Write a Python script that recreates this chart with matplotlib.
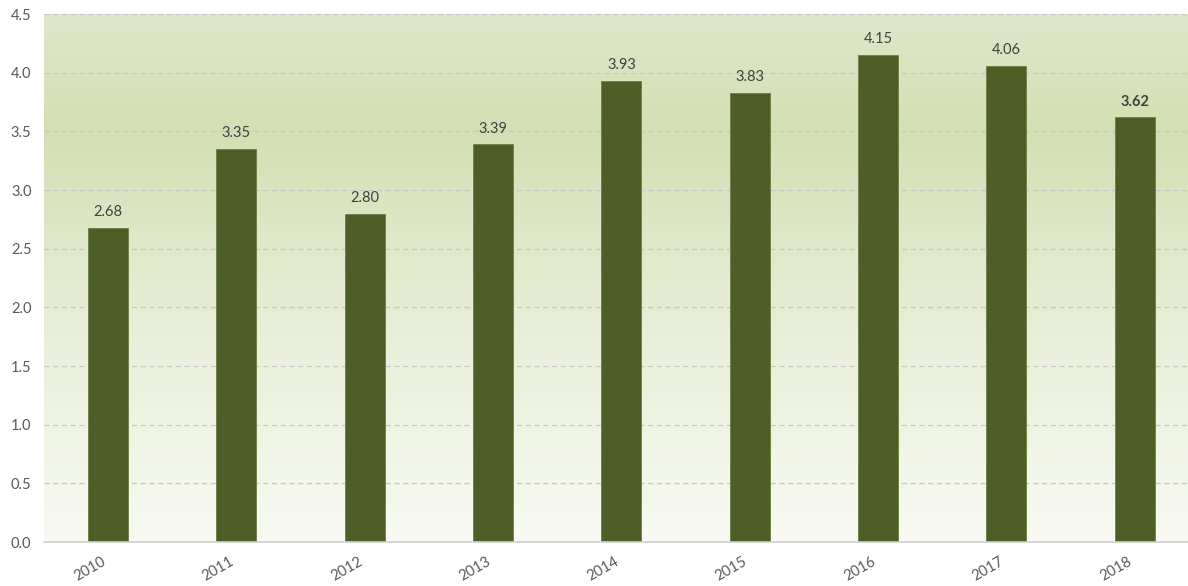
import matplotlib
matplotlib.use("Agg")
import matplotlib.pyplot as plt
import numpy as np
from matplotlib.colors import LinearSegmentedColormap
from matplotlib.transforms import ScaledTranslation

years = ["2010", "2011", "2012", "2013", "2014", "2015", "2016", "2017", "2018"]
values = [2.68, 3.35, 2.80, 3.39, 3.93, 3.83, 4.15, 4.06, 3.62]
yticks = [0.0, 0.5, 1.0, 1.5, 2.0, 2.5, 3.0, 3.5, 4.0, 4.5]

plt.rcParams['font.family'] = ['Lato', 'DejaVu Sans']

fig = plt.figure(figsize=(11.88, 5.86), dpi=100)
ax = fig.add_axes([0.037, 0.075, 0.9722, 0.901])

x = np.arange(len(years))
ax.set_xlim(-0.5, len(years) - 0.5)
ax.set_ylim(0, 4.5)

# vertical gradient background: pale at the bottom, green toward the top
grad = LinearSegmentedColormap.from_list(
    "bg", [(0.0, "#f8faf3"), (0.45, "#e6edd4"), (0.78, "#d3dfb4"), (1.0, "#dfe7ca")])
ax.imshow(np.linspace(0, 1, 256).reshape(-1, 1), aspect="auto", cmap=grad,
          origin="lower", extent=(-0.5, len(years) - 0.5, 0, 4.5), zorder=0)

ax.set_yticks(yticks)
ax.yaxis.grid(True, color="#c6c6c6", linestyle=(0, (4, 3)), linewidth=0.9, zorder=1)
ax.set_axisbelow(False)

bars = ax.bar(x, values, width=0.312, color="#4d5e27", edgecolor="#6b7d45",
              linewidth=0.6, zorder=3)
for i, (xi, v) in enumerate(zip(x, values)):
    ax.text(xi, v + 0.1, f"{v:.2f}", ha="center", va="baseline",
            fontsize=10.5, color="#404040", zorder=4,
            fontweight="bold" if i == len(values) - 1 else "normal")

ax.set_xticks(x)
ax.set_xticklabels(years, rotation=30, ha="right", fontsize=10.5, color="#595959")
shift = ScaledTranslation(4 / 72, 0, fig.dpi_scale_trans)
for lbl in ax.get_xticklabels():
    lbl.set_transform(lbl.get_transform() + shift)
ax.set_yticklabels([f"{t:.1f}" for t in yticks], fontsize=10.5, color="#595959")
ax.tick_params(axis="y", length=0, pad=9)
ax.tick_params(axis="x", length=0, pad=9)

for side in ["top", "right", "left"]:
    ax.spines[side].set_visible(False)
ax.spines["bottom"].set_color("#d0d0d0")
ax.spines["bottom"].set_linewidth(1.2)
ax.spines["bottom"].set_zorder(5)

fig.savefig("out.png", dpi=100, facecolor="white")
